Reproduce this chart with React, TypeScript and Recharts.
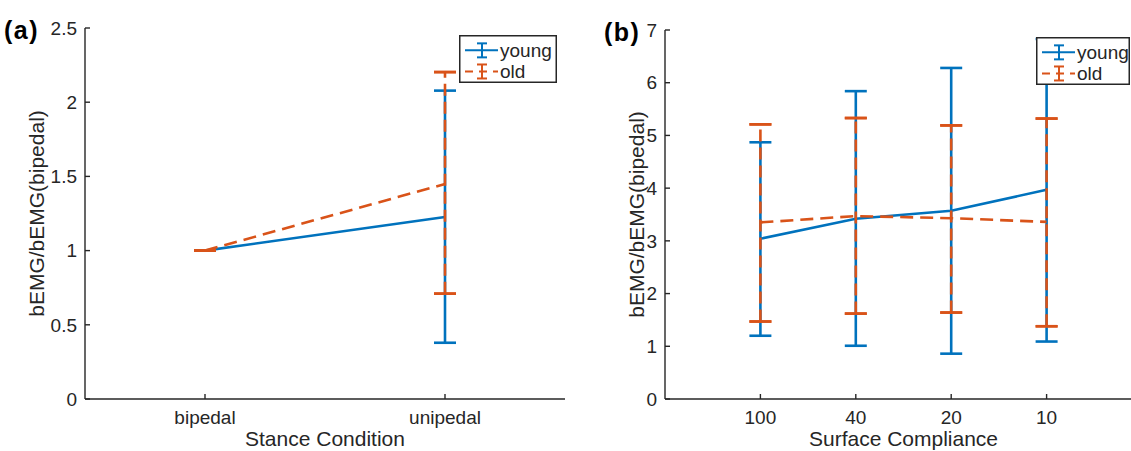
import React from 'react';
import { LineChart, Line, XAxis, YAxis, ErrorBar, Legend } from 'recharts';

const BLUE = '#0072BD';
const ORANGE = '#D95319';
const INK = '#262626';
const FONT = '"Liberation Sans", Arial, Helvetica, sans-serif';

const seriesNames = ['young', 'old'];
const yAxisTitle = 'bEMG/bEMG(bipedal)';

// Panel (a): stance condition
const stanceCategories = ['bipedal', 'unipedal'];
const stanceYoungMean = [1.0, 1.226];
const stanceYoungLow = [1.0, 0.379];
const stanceYoungHigh = [1.0, 2.078];
const stanceOldMean = [1.0, 1.449];
const stanceOldLow = [1.0, 0.71];
const stanceOldHigh = [1.0, 2.203];
const stanceYTicks = [0, 0.5, 1, 1.5, 2, 2.5];

// Panel (b): surface compliance
const surfaceCategories = ['100', '40', '20', '10'];
const surfaceYoungMean = [3.04, 3.42, 3.57, 3.97];
const surfaceYoungLow = [1.2, 1.01, 0.86, 1.09];
const surfaceYoungHigh = [4.87, 5.84, 6.28, 6.83];
const surfaceOldMean = [3.35, 3.47, 3.43, 3.36];
const surfaceOldLow = [1.47, 1.62, 1.64, 1.38];
const surfaceOldHigh = [5.21, 5.33, 5.19, 5.32];
const surfaceYTicks = [0, 1, 2, 3, 4, 5, 6, 7];

function buildRows(cats: string[], ym: number[], ylo: number[], yhi: number[], om: number[], olo: number[], ohi: number[]) {
  return cats.map((c, i) => ({
    x: i + 1,
    cat: c,
    young: ym[i],
    youngErr: [ym[i] - ylo[i], yhi[i] - ym[i]],
    old: om[i],
    oldErr: [om[i] - olo[i], ohi[i] - om[i]],
    oldLow: olo[i],
    oldHigh: ohi[i],
    capOnly: [0, 0],
  }));
}

const stanceRows = buildRows(stanceCategories, stanceYoungMean, stanceYoungLow, stanceYoungHigh, stanceOldMean, stanceOldLow, stanceOldHigh);
const surfaceRows = buildRows(surfaceCategories, surfaceYoungMean, surfaceYoungLow, surfaceYoungHigh, surfaceOldMean, surfaceOldLow, surfaceOldHigh);

const LW = 2.6;

function LegendBox({ w, h }: { w: number; h: number }) {
  const rowY = [h * 0.32, h * 0.76];
  return (
    <svg width={w} height={h} style={{ display: 'block', overflow: 'visible' }}>
      <rect x={0.75} y={0.75} width={w - 1.5} height={h - 1.5} fill="#fff" stroke={INK} strokeWidth={1.5} />
      {seriesNames.map((name, i) => {
        const color = i === 0 ? BLUE : ORANGE;
        const y = rowY[i];
        const x0 = 6;
        const x1 = 39;
        const cx = 23;
        return (
          <g key={name}>
            <line x1={x0} x2={x1} y1={y} y2={y} stroke={color} strokeWidth={2} strokeDasharray={i === 1 ? '8 6' : undefined} />
            <line x1={cx} x2={cx} y1={y - 7} y2={y + 7} stroke={color} strokeWidth={2} />
            <line x1={cx - 5} x2={cx + 5} y1={y - 7} y2={y - 7} stroke={color} strokeWidth={2} />
            <line x1={cx - 5} x2={cx + 5} y1={y + 7} y2={y + 7} stroke={color} strokeWidth={2} />
            <text x={41} y={y} dominantBaseline="central" fill={INK} fontSize={19} fontFamily={FONT}>{name}</text>
          </g>
        );
      })}
    </svg>
  );
}

type PanelProps = {
  rows: any[];
  categories: string[];
  yTicks: number[];
  xDomain: [number, number];
  xLabel: string;
  width: number;
  top: number;
  yAxisWidth: number;
  yLabelX: number;
  legend: { left: number; top: number; w: number; h: number };
};

function Panel({ rows, categories, yTicks, xDomain, xLabel, width, top, yAxisWidth, yLabelX, legend }: PanelProps) {
  const yMax = yTicks[yTicks.length - 1];
  return (
    <LineChart width={width} height={451} data={rows} margin={{ top, right: 5, bottom: 0, left: 0 }}>
      <XAxis
        type="number"
        dataKey="x"
        domain={xDomain}
        ticks={rows.map((r) => r.x)}
        tickFormatter={(v: number) => categories[v - 1]}
        interval={0}
        height={52}
        tickSize={-5}
        tickMargin={17}
        axisLine={{ stroke: INK, strokeWidth: 1.4 }}
        tickLine={{ stroke: INK, strokeWidth: 1.4 }}
        tick={{ fill: INK, fontSize: 19, fontFamily: FONT }}
        allowDataOverflow
        label={{ value: xLabel, position: 'insideBottom', offset: 5, fill: INK, fontSize: 21, fontFamily: FONT }}
      />
      <YAxis
        type="number"
        domain={[0, yMax]}
        ticks={yTicks}
        interval={0}
        width={yAxisWidth}
        tickSize={-5}
        tickMargin={13}
        axisLine={{ stroke: INK, strokeWidth: 1.4 }}
        tickLine={{ stroke: INK, strokeWidth: 1.4 }}
        tick={{ fill: INK, fontSize: 19, fontFamily: FONT }}
        allowDataOverflow
        label={{
          content: (p: any) => {
            const vb = p.viewBox || { x: 0, y: top, width: yAxisWidth, height: 371 };
            const cx = vb.x + yLabelX;
            const cy = vb.y + vb.height / 2;
            return (
              <text x={cx} y={cy} transform={`rotate(-90 ${cx} ${cy})`} textAnchor="middle" dominantBaseline="central" fill={INK} fontSize={21} fontFamily={FONT}>
                {yAxisTitle}
              </text>
            );
          },
        }}
      />
      <Line type="linear" dataKey="young" name={seriesNames[0]} stroke={BLUE} strokeWidth={LW} dot={false} activeDot={false} isAnimationActive={false}>
        <ErrorBar dataKey="youngErr" direction="y" width={11} stroke={BLUE} strokeWidth={LW} isAnimationActive={false} />
      </Line>
      <Line type="linear" dataKey="old" name={seriesNames[1]} stroke={ORANGE} strokeWidth={LW} strokeDasharray="13 7" dot={false} activeDot={false} isAnimationActive={false}>
        <ErrorBar dataKey="oldErr" direction="y" width={0} stroke={ORANGE} strokeWidth={LW} strokeDasharray="12 6" isAnimationActive={false} />
      </Line>
      <Line type="linear" dataKey="oldHigh" legendType="none" stroke="none" dot={false} activeDot={false} isAnimationActive={false}>
        <ErrorBar dataKey="capOnly" direction="y" width={11} stroke={ORANGE} strokeWidth={LW} isAnimationActive={false} />
      </Line>
      <Line type="linear" dataKey="oldLow" legendType="none" stroke="none" dot={false} activeDot={false} isAnimationActive={false}>
        <ErrorBar dataKey="capOnly" direction="y" width={11} stroke={ORANGE} strokeWidth={LW} isAnimationActive={false} />
      </Line>
      <Legend
        layout="horizontal"
        verticalAlign="middle"
        align="center"
        content={() => <LegendBox w={legend.w} h={legend.h} />}
        wrapperStyle={{ left: legend.left, top: legend.top, width: legend.w, height: legend.h, bottom: 'auto', right: 'auto' }}
      />
    </LineChart>
  );
}

export default function App() {
  return (
    <div style={{ position: 'absolute', left: 0, top: 0, width: 1131, height: 451, overflow: 'hidden', background: '#fff' }}>
      <div style={{ position: 'absolute', left: 0, top: 0 }}>
        <Panel
          rows={stanceRows}
          categories={stanceCategories}
          yTicks={stanceYTicks}
          xDomain={[0.5, 2.5]}
          xLabel="Stance Condition"
          width={570}
          top={28}
          yAxisWidth={85}
          yLabelX={36}
          legend={{ left: 459, top: 35, w: 98, h: 48 }}
        />
      </div>
      <div style={{ position: 'absolute', left: 575, top: 0 }}>
        <Panel
          rows={surfaceRows}
          categories={surfaceCategories}
          yTicks={surfaceYTicks}
          xDomain={[0, 5]}
          xLabel="Surface Compliance"
          width={572}
          top={30}
          yAxisWidth={90}
          yLabelX={61}
          legend={{ left: 461, top: 37, w: 94, h: 48 }}
        />
      </div>
      <svg width={1131} height={60} style={{ position: 'absolute', left: 0, top: 0, pointerEvents: 'none' }}>
        <text x={4} y={39} fontSize={25} fontWeight="bold" letterSpacing={1.5} fill="#000" fontFamily={FONT}>(a)</text>
        <text x={604} y={41} fontSize={25} fontWeight="bold" letterSpacing={1.5} fill="#000" fontFamily={FONT}>(b)</text>
      </svg>
    </div>
  );
}
